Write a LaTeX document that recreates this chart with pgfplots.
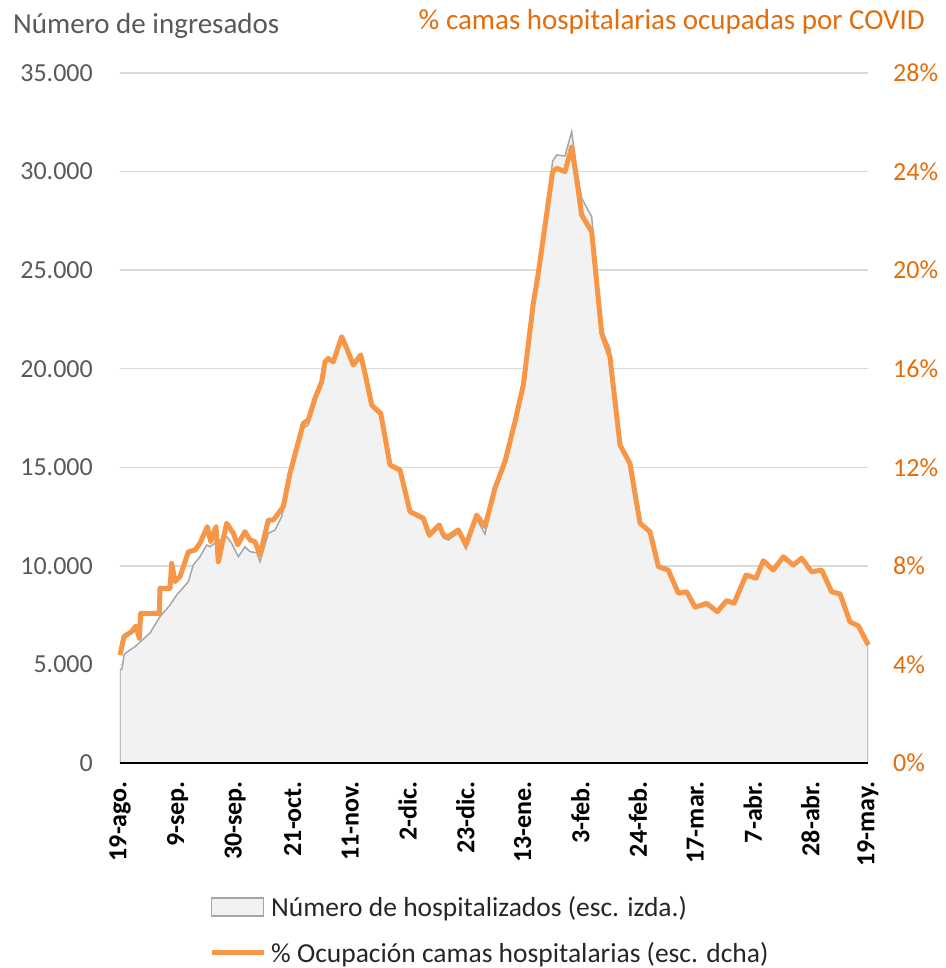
\documentclass[border=0pt]{standalone}
\usepackage{fontspec}
\setmainfont{Carlito}
\usepackage{pgfplots}
\pgfplotsset{compat=1.18}
\definecolor{gridgray}{RGB}{217,217,217}
\definecolor{areafill}{RGB}{242,242,242}
\definecolor{areaedge}{RGB}{166,166,166}
\definecolor{orangeline}{RGB}{247,150,70}
\definecolor{orangetxt}{RGB}{228,108,10}
\definecolor{txtgray}{RGB}{89,89,89}
\definecolor{legtxt}{RGB}{38,38,38}
\newcommand\chartfont{\fontsize{26}{30}\selectfont}
\newcommand\titlefont{\fontsize{29}{33}\selectfont}
\newcommand\legfont{\fontsize{27.5}{31}\selectfont}

\begin{document}
\begin{tikzpicture}
\useasboundingbox (-120pt,-205pt) rectangle (825pt,763pt);
% left scale: hospitalised
\begin{axis}[
  scale only axis, width=748pt, height=690pt,
  xmin=0, xmax=273, ymin=0, ymax=35000,
  xtick={0,21,...,273},
  xticklabels={19-ago.,9-sep.,30-sep.,21-oct.,11-nov.,2-dic.,23-dic.,13-ene.,3-feb.,24-feb.,17-mar.,7-abr.,28-abr.,19-may.},
  ytick={0,5000,...,35000},
  axis line style={draw=none},
  major tick length=0pt,
  ymajorgrids,
  grid style={color=gridgray, line width=1.5pt},
  xticklabel style={rotate=90, anchor=east, inner sep=0pt, text=black, font=\bfseries\chartfont},
  xticklabel shift=18pt,
  yticklabel style={anchor=east, inner sep=0pt, text=txtgray, font=\chartfont},
  yticklabel shift=27pt,
  scaled y ticks=false,
  /pgf/number format/1000 sep={.},
  /pgf/number format/assume math mode=true,
]
\addplot[fill=areafill, draw=areaedge, line width=1.5pt] coordinates {
  (0,0) (0,4700) (0.8,4800) (1.46,5478) (2.0,5580) (5.47,5900) (10.95,6594)
  (14.6,7421) (18.25,8015) (20.7,8522) (24.93,9197) (26.75,10044) (29.2,10465)
  (31.64,11058) (32.85,10972) (35.3,11225) (38.94,11479) (40.77,11144)
  (43.18,10465) (45.62,10972) (47.45,10718) (49.9,10668) (51.09,10211)
  (54.12,11651) (56.57,11819) (59.01,12494) (62.04,14457) (66.9,16993)
  (68.72,17145) (71.17,18312) (73.61,19342) (74.82,20341) (76.02,20442)
  (77.85,20290) (80.91,21457) (82.74,20950) (85.15,20188) (87.85,20696)
  (89.42,19730) (91.86,18109) (93.07,17957) (95.15,17703) (96.72,16536)
  (98.54,15065) (102.2,14812) (105.84,12682) (110.69,12326) (112.88,11464)
  (116.53,11971) (118,11413) (119.8,11312) (123.47,11667) (126.28,10855)
  (130.18,12377) (133.2,11616) (136.86,13848) (140.5,15167) (144.16,17196)
  (147.2,19073) (150.84,23232) (152.66,24754) (157.9,30536) (159.4,30841)
  (162.4,30790) (164.85,32023) (166.7,30080) (168.5,28645) (172.15,27711)
  (175.8,21964) (178.8,21036) (182.5,16130) (186.1,15202) (189.8,12159)
  (193.4,11733) (196.5,9963) (200.1,9788) (203.8,8613) (206.8,8688)
  (209.9,7900) (214.1,8100) (218,7675) (221.4,8238) (224.1,8100)
  (228.5,9538) (232.1,9375) (234.8,10263) (238.4,9788) (242.1,10463)
  (245.7,10038) (248.8,10388) (252.4,9700) (256.1,9788) (259.7,8688)
  (262.8,8575) (266.4,7163) (269.5,6950) (273,5988) (273,0)
} \closedcycle;
\end{axis}
% right scale: bed occupancy
\begin{axis}[
  scale only axis, width=748pt, height=690pt,
  xmin=0, xmax=273, ymin=0, ymax=28,
  axis x line*=bottom, axis y line*=right,
  x axis line style={black, line width=2pt, -},
  y axis line style={draw=none},
  xtick=\empty,
  ytick={0,4,...,28},
  yticklabels={0\%,4\%,8\%,12\%,16\%,20\%,24\%,28\%},
  major tick length=0pt,
  yticklabel style={anchor=west, inner sep=0pt, text=orangetxt, font=\chartfont},
  yticklabel shift=25pt,
  clip=false,
  legend cell align=left,
  legend style={at={(0.1190,-0.193)}, anchor=north west, draw=none, fill=none,
    inner sep=0pt, row sep=24pt, column sep=5pt,
    nodes={inner sep=0pt, text=legtxt, font=\legfont}},
]
\addlegendimage{legend image code/.code={\draw[fill=areafill, draw=areaedge, line width=1.5pt] (0pt,-9pt) rectangle (52pt,9pt);}}
\addlegendentry{Número de hospitalizados (esc. izda.)}
\addplot[color=orangeline, line width=5pt, line join=round,
  legend image code/.code={\draw[orangeline, line width=5pt] (0pt,0pt) -- (52pt,0pt);}] coordinates {
  (0,4.38) (1.46,5.13) (4.27,5.33) (5.84,5.56) (7.04,5.06) (7.55,6.07)
  (14.34,6.07) (14.6,7.09) (18.25,7.09) (18.87,8.10) (20.07,7.36) (21.9,7.56)
  (24.93,8.57) (27.37,8.64) (29.2,8.92) (31.86,9.59) (33.1,8.98) (35.04,9.59)
  (35.88,8.17) (38.94,9.73) (41.35,9.32) (42.96,8.85) (45.62,9.39) (47.45,9.05)
  (49.27,8.98) (51.09,8.44) (54.12,9.86) (55.95,9.86) (59.6,10.40) (62.04,11.76)
  (66.9,13.78) (68.72,13.92) (71.17,14.80) (73.61,15.47) (74.82,16.28)
  (76.02,16.42) (77.85,16.28) (80.91,17.30) (82.74,16.83) (85.15,16.15)
  (87.85,16.56) (89.42,15.81) (91.86,14.53) (93.07,14.39) (95.15,14.19)
  (96.72,13.24) (98.54,12.09) (102.2,11.89) (105.84,10.20) (110.69,9.93)
  (112.88,9.25) (116.53,9.66) (118.0,9.25) (119.8,9.18) (123.47,9.46)
  (126.28,8.85) (130.18,10.06) (133.2,9.59) (136.86,11.15) (140.5,12.23)
  (144.16,13.85) (147.2,15.34) (150.84,18.65) (152.66,19.87) (157.9,24.0)
  (159.4,24.13) (162.4,24.0) (164.85,25.01) (166.7,23.66) (168.5,22.24)
  (172.15,21.56) (175.8,17.44) (178.8,16.49) (182.5,12.90) (186.1,12.16)
  (189.8,9.73) (193.4,9.39) (196.5,7.97) (200.1,7.83) (203.8,6.89)
  (206.8,6.95) (209.9,6.32) (214.1,6.48) (218.0,6.14) (221.4,6.59)
  (224.1,6.48) (228.5,7.63) (232.1,7.50) (234.8,8.21) (238.4,7.83)
  (242.1,8.37) (245.7,8.03) (248.8,8.31) (252.4,7.76) (256.1,7.83)
  (259.7,6.95) (262.8,6.86) (266.4,5.73) (269.5,5.56) (273.1,4.79)
};
\addlegendentry{\% Ocupación camas hospitalarias (esc. dcha)}
\end{axis}
\node[anchor=base west, inner sep=0pt, text=txtgray, font=\titlefont] at (-107pt,729pt) {Número de ingresados};
\node[anchor=base east, inner sep=0pt, text=orangetxt, font=\titlefont] at (805pt,733pt) {\% camas hospitalarias ocupadas por COVID};
\end{tikzpicture}
\end{document}
